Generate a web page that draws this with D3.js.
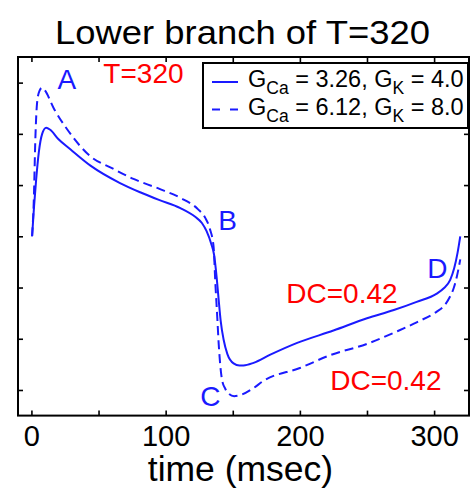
<!DOCTYPE html>
<html>
<head>
<meta charset="utf-8">
<script src="https://cdn.jsdelivr.net/npm/d3@7"></script>
<style>
  html, body { margin: 0; padding: 0; background: #fff; }
  text { font-family: "Liberation Sans", Arial, sans-serif; }
</style>
</head>
<body>
<svg id="chart" width="474" height="489"></svg>
<script>
// Membrane trace over one period, lower branch (T = 320 ms)
const timeSolid = [0.5, 2, 3.5, 5.5, 8, 11, 14, 20, 29, 44, 66, 81, 95, 111, 122, 127, 130.5, 134, 136, 138, 139.5, 141, 143.2, 146, 150.6, 155, 158, 165.5, 178, 198, 225, 250, 270, 287, 302, 307, 312, 315, 317.5, 319.5];
const valueSolid = [30, 36, 41, 46.4, 50, 51.2, 50.8, 49, 47, 43.8, 40.4, 38.6, 37.1, 35.5, 33.8, 32.6, 31, 28.5, 26.5, 22, 17.6, 13.5, 9.8, 7, 5.2, 4.8, 4.8, 5.3, 6.9, 9.2, 11.6, 14, 15.6, 17.2, 18.8, 19.8, 21.5, 23.8, 26.8, 30];

const timeDashed = [0.5, 1.7, 3, 4.2, 6, 8, 10, 16.6, 26.6, 44, 60, 76, 95, 111, 124, 129.5, 133, 135.7, 137, 138.5, 139.5, 142, 144.5, 147, 151, 155.6, 165, 173, 200, 222.6, 250, 272, 287, 302, 307, 312, 314.5, 317, 319.5];
const valueDashed = [30, 36.5, 49.6, 56, 58.4, 59, 58.5, 55, 50.9, 45.6, 43.3, 41.2, 39.3, 37.5, 35.3, 33.6, 31.4, 28, 21, 14, 9.1, 2, 0.2, -0.7, -1.2, -1, 0.3, 1.8, 4.3, 6.8, 9, 11.4, 13.2, 15.3, 16.3, 18.3, 19.8, 22.2, 25.5];

const xTicks = [0, 50, 100, 150, 200, 250, 300];
const xTickLabels = ["0", "", "100", "", "200", "", "300"];
const yTicks = [0, 10, 20, 30, 40, 50, 60];

const legendSolid = { g1: "Ca", v1: "3.26", g2: "K", v2: "4.0" };
const legendDashed = { g1: "Ca", v1: "6.12", g2: "K", v2: "8.0" };

const pointLabels = [
  { text: "A", t: 19.4, v: 58.7 },
  { text: "B", t: 139.2, v: 31.3 },
  { text: "C", t: 125.8, v: -3.1 },
  { text: "D", t: 294.9, v: 21.9 }
];
const redLabels = [
  { text: "T=320", t: 53.6, v: 60 },
  { text: "DC=0.42", t: 189.9, v: 17 },
  { text: "DC=0.42", t: 222.6, v: 0 }
];

const W = 474, H = 489;
const margin = { top: 57, right: 5, bottom: 73.4, left: 18 };
const blue = "#1a1aff";

const svg = d3.select("#chart");
const x = d3.scaleLinear().domain([-10, 326]).range([margin.left, W - margin.right]);
const y = d3.scaleLinear().domain([-5, 65]).range([H - margin.bottom, margin.top]);

// Title
svg.append("text")
  .attr("x", 55)
  .attr("y", 43.5)
  .attr("font-size", 33)
  .attr("textLength", 375)
  .attr("lengthAdjust", "spacingAndGlyphs")
  .attr("fill", "#000")
  .text("Lower branch of T=320");

// Axes with inward ticks on all four sides
const tickLen = 5;
const gx = svg.append("g").attr("transform", `translate(0,${y.range()[0]})`)
  .call(d3.axisBottom(x).tickValues(xTicks).tickSize(-tickLen).tickPadding(12)
    .tickFormat((d, i) => xTickLabels[i]));
const gxTop = svg.append("g").attr("transform", `translate(0,${y.range()[1]})`)
  .call(d3.axisTop(x).tickValues(xTicks).tickSize(-tickLen).tickFormat(""));
const gy = svg.append("g").attr("transform", `translate(${x.range()[0]},0)`)
  .call(d3.axisLeft(y).tickValues(yTicks).tickSize(-tickLen).tickFormat(""));
const gyRight = svg.append("g").attr("transform", `translate(${x.range()[1]},0)`)
  .call(d3.axisRight(y).tickValues(yTicks).tickSize(-tickLen).tickFormat(""));

[gx, gxTop, gy, gyRight].forEach(g => {
  g.select(".domain").remove();
  g.selectAll(".tick line").attr("stroke", "#000").attr("stroke-width", 1.6);
});
gx.selectAll(".tick text")
  .attr("font-size", 29)
  .attr("font-family", "Liberation Sans, Arial, sans-serif")
  .attr("fill", "#000")
  .attr("dy", 0)
  .attr("y", 446.5 - y.range()[0]);

// Frame
svg.append("rect")
  .attr("x", x.range()[0]).attr("y", y.range()[1])
  .attr("width", x.range()[1] - x.range()[0])
  .attr("height", y.range()[0] - y.range()[1])
  .attr("fill", "none").attr("stroke", "#000").attr("stroke-width", 2);

// X axis label
svg.append("text")
  .attr("x", 240.5)
  .attr("y", 480.5)
  .attr("text-anchor", "middle")
  .attr("font-size", 35.5)
  .attr("fill", "#000")
  .text("time (msec)");

// Traces
const line = d3.line().x(d => x(d[0])).y(d => y(d[1])).curve(d3.curveMonotoneX);
const solidData = d3.zip(timeSolid, valueSolid);
const dashedData = d3.zip(timeDashed, valueDashed);

svg.append("path").datum(dashedData)
  .attr("d", line).attr("fill", "none")
  .attr("stroke", blue).attr("stroke-width", 2)
  .attr("stroke-dasharray", "9,5");
svg.append("path").datum(solidData)
  .attr("d", line).attr("fill", "none")
  .attr("stroke", blue).attr("stroke-width", 2);

// Point annotations
svg.selectAll("text.pt").data(pointLabels).join("text")
  .attr("class", "pt")
  .attr("x", d => x(d.t)).attr("y", d => y(d.v))
  .attr("font-size", 28).attr("fill", blue)
  .text(d => d.text);
svg.selectAll("text.red").data(redLabels).join("text")
  .attr("class", "red")
  .attr("x", d => x(d.t)).attr("y", d => y(d.v))
  .attr("font-size", 28).attr("fill", "#ff0000")
  .text(d => d.text);

// Legend
const lg = svg.append("g");
lg.append("rect")
  .attr("x", 203).attr("y", 63).attr("width", 265).attr("height", 65)
  .attr("fill", "#fff").attr("stroke", "#000").attr("stroke-width", 2);

const entries = [
  { item: legendSolid, dash: null, yy: 82 },
  { item: legendDashed, dash: "8,10", yy: 109.5 }
];
entries.forEach(e => {
  lg.append("line")
    .attr("x1", 212).attr("x2", 238)
    .attr("y1", e.yy).attr("y2", e.yy)
    .attr("stroke", blue).attr("stroke-width", 2)
    .attr("stroke-dasharray", e.dash);
  const t = lg.append("text")
    .attr("x", 248).attr("y", e.yy + 5)
    .attr("font-size", 23.5).attr("fill", "#000");
  t.append("tspan").text("G");
  t.append("tspan").attr("font-size", 17.5).attr("dy", 7).text(e.item.g1);
  t.append("tspan").attr("dy", -7).text(` = ${e.item.v1}, G`);
  t.append("tspan").attr("font-size", 17.5).attr("dy", 7).text(e.item.g2);
  t.append("tspan").attr("dy", -7).text(` = ${e.item.v2}`);
});
</script>
</body>
</html>
